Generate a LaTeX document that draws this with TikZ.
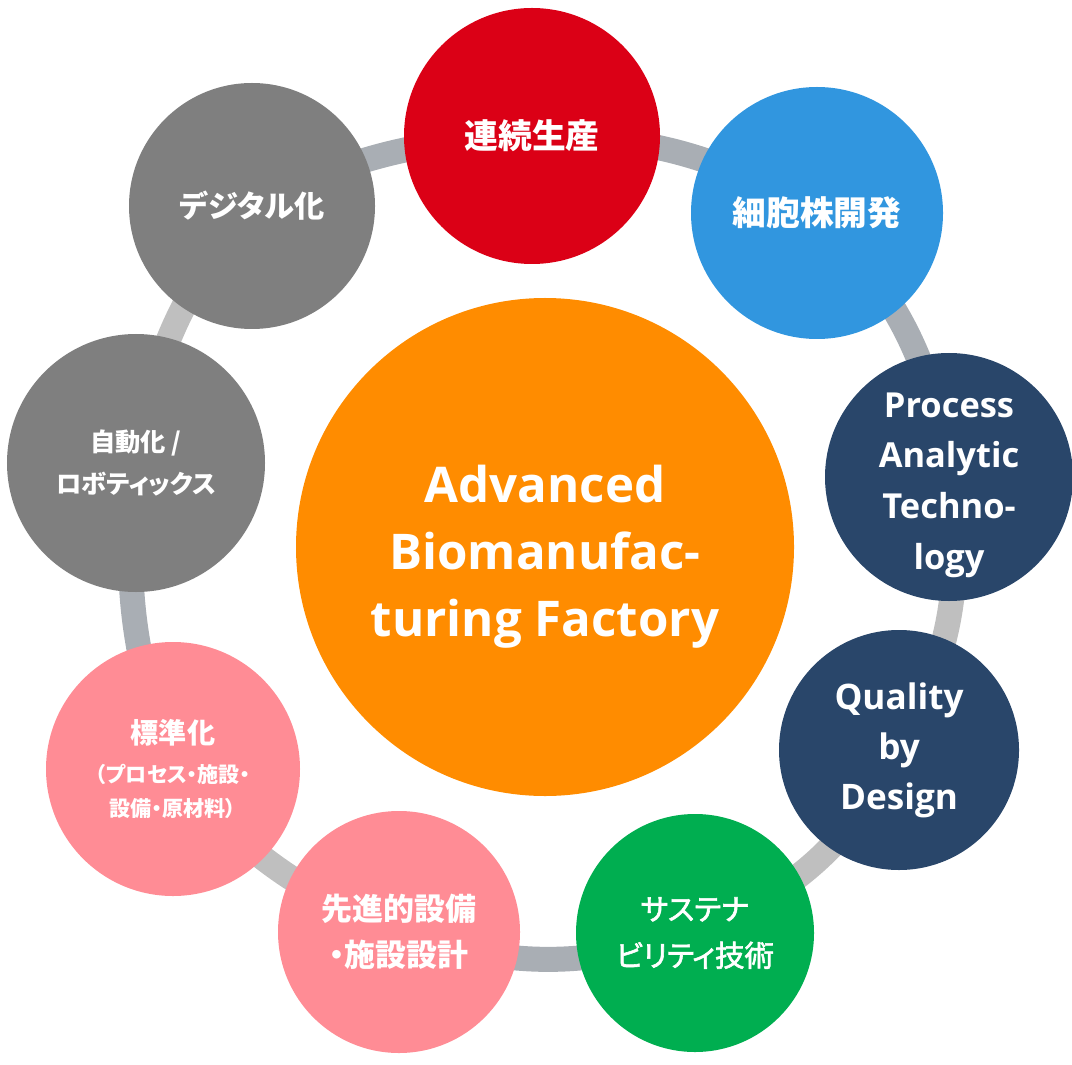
\documentclass[tikz,border=0pt]{standalone}
\usepackage{fontspec}
\setmainfont{Open Sans}
\newfontfamily\jafont{Noto Sans CJK JP}[RawFeature=+palt]
\usepackage{tikz}
\usetikzlibrary{backgrounds}
\definecolor{hubOrange}{HTML}{FF8C00}
\definecolor{prodRed}{HTML}{DB0016}
\definecolor{cellBlue}{HTML}{3196DF}
\definecolor{qualNavy}{HTML}{29466A}
\definecolor{susGreen}{HTML}{00AE50}
\definecolor{stdPink}{HTML}{FF8C95}
\definecolor{digGrey}{HTML}{7F7F7F}
\definecolor{ringBlue}{HTML}{A9AEB4}
\definecolor{ringGrey}{HTML}{BFBFBF}

\begin{document}
\begin{tikzpicture}
                [
                hub/.style={circle,fill=hubOrange,text=white,inner sep=0pt,minimum size=12.45cm,align=center,font=\bfseries\fontsize{35}{47.7}\selectfont},
                topic/.style={circle,text=white,inner sep=0pt,align=center,font=\jafont\bfseries\fontsize{24}{34}\selectfont},
                link/.style={line width=17.8pt}
                ]
            \useasboundingbox (0,0) rectangle (26.8,26.6);
            \node[hub] (0) at (13.625,12.925) {\rule{0pt}{41pt}Advanced\\Biomanufac-\\turing Factory};
            \node[topic,fill=prodRed,minimum size=6.4cm] (1) at (13.30,23.20) {連続生産};
            \node[topic,fill=cellBlue,minimum size=6.3cm] (2) at (20.425,21.275) {細胞株開発};
            \node[topic,fill=qualNavy,minimum size=6.2cm,font=\rmfamily\bfseries\fontsize{24.5}{36}\selectfont] (3) at (23.725,14.675) {\rule{0pt}{29pt}Process\\Analytic\\Techno-\\logy};
            \node[topic,fill=qualNavy,minimum size=6.0cm,font=\rmfamily\bfseries\fontsize{25}{35.5}\selectfont] (4) at (22.475,7.85) {Quality\\by\\Design};
            \node[topic,fill=susGreen,minimum size=5.95cm,font=\jafont\fontsize{21}{33}\selectfont\addfontfeatures{FakeBold=2}] (5) at (17.375,3.275) {サステナ\\ビリティ技術};
            \node[topic,fill=stdPink,minimum size=6.05cm,font=\jafont\bfseries\fontsize{22}{33}\selectfont] (6) at (9.975,3.30) {先進的設備\\・施設設計};
            \node[topic,fill=stdPink,minimum size=6.35cm,font=\jafont\bfseries\fontsize{15}{24}\selectfont] (7) at (4.325,7.375) {{\fontsize{20}{24}\selectfont 標準化}\\[4pt]（プロセス・施設・\\設備・原材料）};
            \node[topic,fill=digGrey,minimum size=6.45cm,font=\jafont\bfseries\fontsize{18}{30.5}\selectfont] (8) at (3.40,15.025) {自動化 /\\ロボティックス};
            \node[topic,fill=digGrey,minimum size=6.15cm,font=\jafont\bfseries\fontsize{21.5}{32}\selectfont] (9) at (6.30,21.45) {デジタル化};
            \begin{scope}[on background layer]
            \draw[link,ringBlue] (9.center) to[bend left=12] (1.center);
            \draw[link,ringBlue] (1.center) to[bend left=15] (2.center);
            \draw[link,ringBlue] (2.center) to[bend left=18] (3.center);
            \draw[link,ringGrey] (3.center) to[bend left=18] (4.center);
            \draw[link,ringGrey] (4.center) to[bend left=20] (5.center);
            \draw[link,ringBlue] (5.center) to[bend left=18] (6.center);
            \draw[link,ringGrey] (6.center) to[bend left=14] (7.center);
            \draw[link,ringBlue] (7.center) to[bend left=13] (8.center);
            \draw[link,ringGrey] (8.center) to[bend left=15] (9.center);
            \end{scope}
            \end{tikzpicture}
\end{document}
